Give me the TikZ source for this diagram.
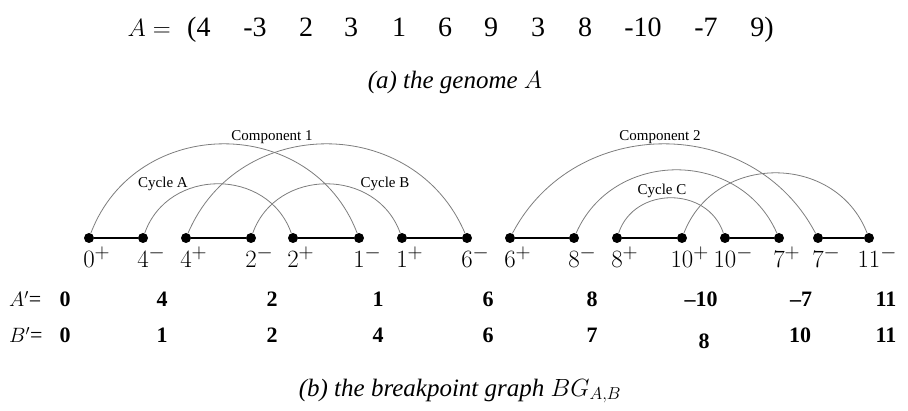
\documentclass[tikz,border=0pt]{standalone}
\usepackage{fontspec}
\setmainfont{Liberation Serif}
\definecolor{arcgray}{RGB}{125,125,125}
\begin{document}
\begin{tikzpicture}[x=1pt,y=1pt,
  vtx/.style={circle,fill=black,inner sep=0pt,minimum size=10pt},
  pair/.style={line width=2pt},
  link/.style={draw=arcgray,line width=0.8pt},
  endlab/.style={anchor=base,inner sep=0pt,font=\fontsize{30}{36}\selectfont},
  seq/.style={anchor=base,inner sep=0pt,font=\fontsize{28}{34}\selectfont},
  captext/.style={anchor=base,inner sep=0pt,font=\fontsize{25}{30}\selectfont\itshape},
  tag/.style={inner sep=0pt,font=\fontsize{15}{18}\selectfont},
  row/.style={anchor=base,inner sep=0pt,font=\fontsize{22}{26}\selectfont\bfseries}]
\useasboundingbox (0,0) rectangle (908,410);

% the genome A
\node[seq,anchor=base east] (gA) at (171,373) {$A=$};
\node[seq,anchor=base west] (g1) at (187,373) {(4};
\node[seq] (g2) at (255,373) {-3};
\node[seq] (g3) at (306,373) {2};
\node[seq] (g4) at (351,373) {3};
\node[seq] (g5) at (399,373) {1};
\node[seq] (g6) at (445,373) {6};
\node[seq] (g7) at (491,373) {9};
\node[seq] (g8) at (538,373) {3};
\node[seq] (g9) at (585,373) {8};
\node[seq] (g10) at (643,373) {-10};
\node[seq] (g11) at (706,373) {-7};
\node[seq,anchor=base east] (g12) at (774,373) {9)};
\node[captext] (capa) at (455,321) {(a) the genome $A$};

% vertices of the breakpoint graph
\foreach \n/\x/\v/\s in {n0p/89/0/+, n4m/143/4/-, n4p/186/4/+, n2m/251/2/-,
    n2p/293/2/+, n1m/359/1/-, n1p/402/1/+, n6m/467/6/-,
    n6p/510/6/+, n8m/574/8/-, n8p/617/8/+, n10p/682/10/+,
    n10m/725/10/-, n7p/779/7/+, n7m/818/7/-, n11m/869/11/-}{
  \node[vtx] (\n) at (\x,172) {};
  \node[endlab] (l\n) at ([yshift=-30pt]\n.center) {$\v\rlap{$^{\s}$}$};
}

% black edges
\foreach \a/\b in {n0p/n4m, n4p/n2m, n2p/n1m, n1p/n6m,
    n6p/n8m, n8p/n10p, n10m/n7p, n7m/n11m}
  \draw[pair] (\a) -- (\b);

% gray edges
\draw[link] (n0p)  .. controls +(69.1:132.7pt) and +(110.9:132.7pt) .. (n1m);
\draw[link] (n4p)  .. controls +(67.0:134.7pt) and +(113.0:134.7pt) .. (n6m);
\draw[link] (n4m)  .. controls +(70.5:75.0pt)  and +(109.5:75.0pt)  .. (n2p);
\draw[link] (n2m)  .. controls +(70.2:75.1pt)  and +(109.8:75.1pt)  .. (n1p);
\draw[link] (n6p)  .. controls +(62.3:140.1pt) and +(117.7:140.1pt) .. (n7m);
\draw[link] (n8m)  .. controls +(66.4:97.5pt)  and +(113.6:97.5pt)  .. (n7p);
\draw[link] (n10p) .. controls +(68.8:91.5pt)  and +(111.2:91.5pt)  .. (n11m);
\draw[link] (n8p)  .. controls +(71.7:54.8pt)  and +(108.3:54.8pt)  .. (n10m);

% component and cycle names
\node[tag] (t1) at (272,273) {Component 1};
\node[tag] (t2) at (660,273) {Component 2};
\node[tag] (tA) at (163,226) {Cycle A};
\node[tag] (tB) at (385,226) {Cycle B};
\node[tag] (tC) at (662,219) {Cycle C};

% the two permutations
\node[row,anchor=base west,font=\fontsize{22}{26}\selectfont] (ra) at (9,103) {$A'$=};
\node[row,anchor=base west,font=\fontsize{22}{26}\selectfont] (rb) at (9,67) {$B'$=};
\foreach \x/\t [count=\i] in {65/0, 162/4, 272/2, 378/1, 488/6, 592/8, 701/--10, 801/--7, 886/11}
  \node[row] (a\i) at (\x,103) {\t};
\foreach \x/\t/\y [count=\i] in {65/0/67, 162/1/67, 272/2/67, 378/4/67, 488/6/67, 592/7/67, 704/8/62, 800/10/67, 886/11/67}
  \node[row] (b\i) at (\x,\y) {\t};

\node[captext] (capb) at (460,14) {(b) the breakpoint graph $BG_{A,B}$};
\end{tikzpicture}
\end{document}
